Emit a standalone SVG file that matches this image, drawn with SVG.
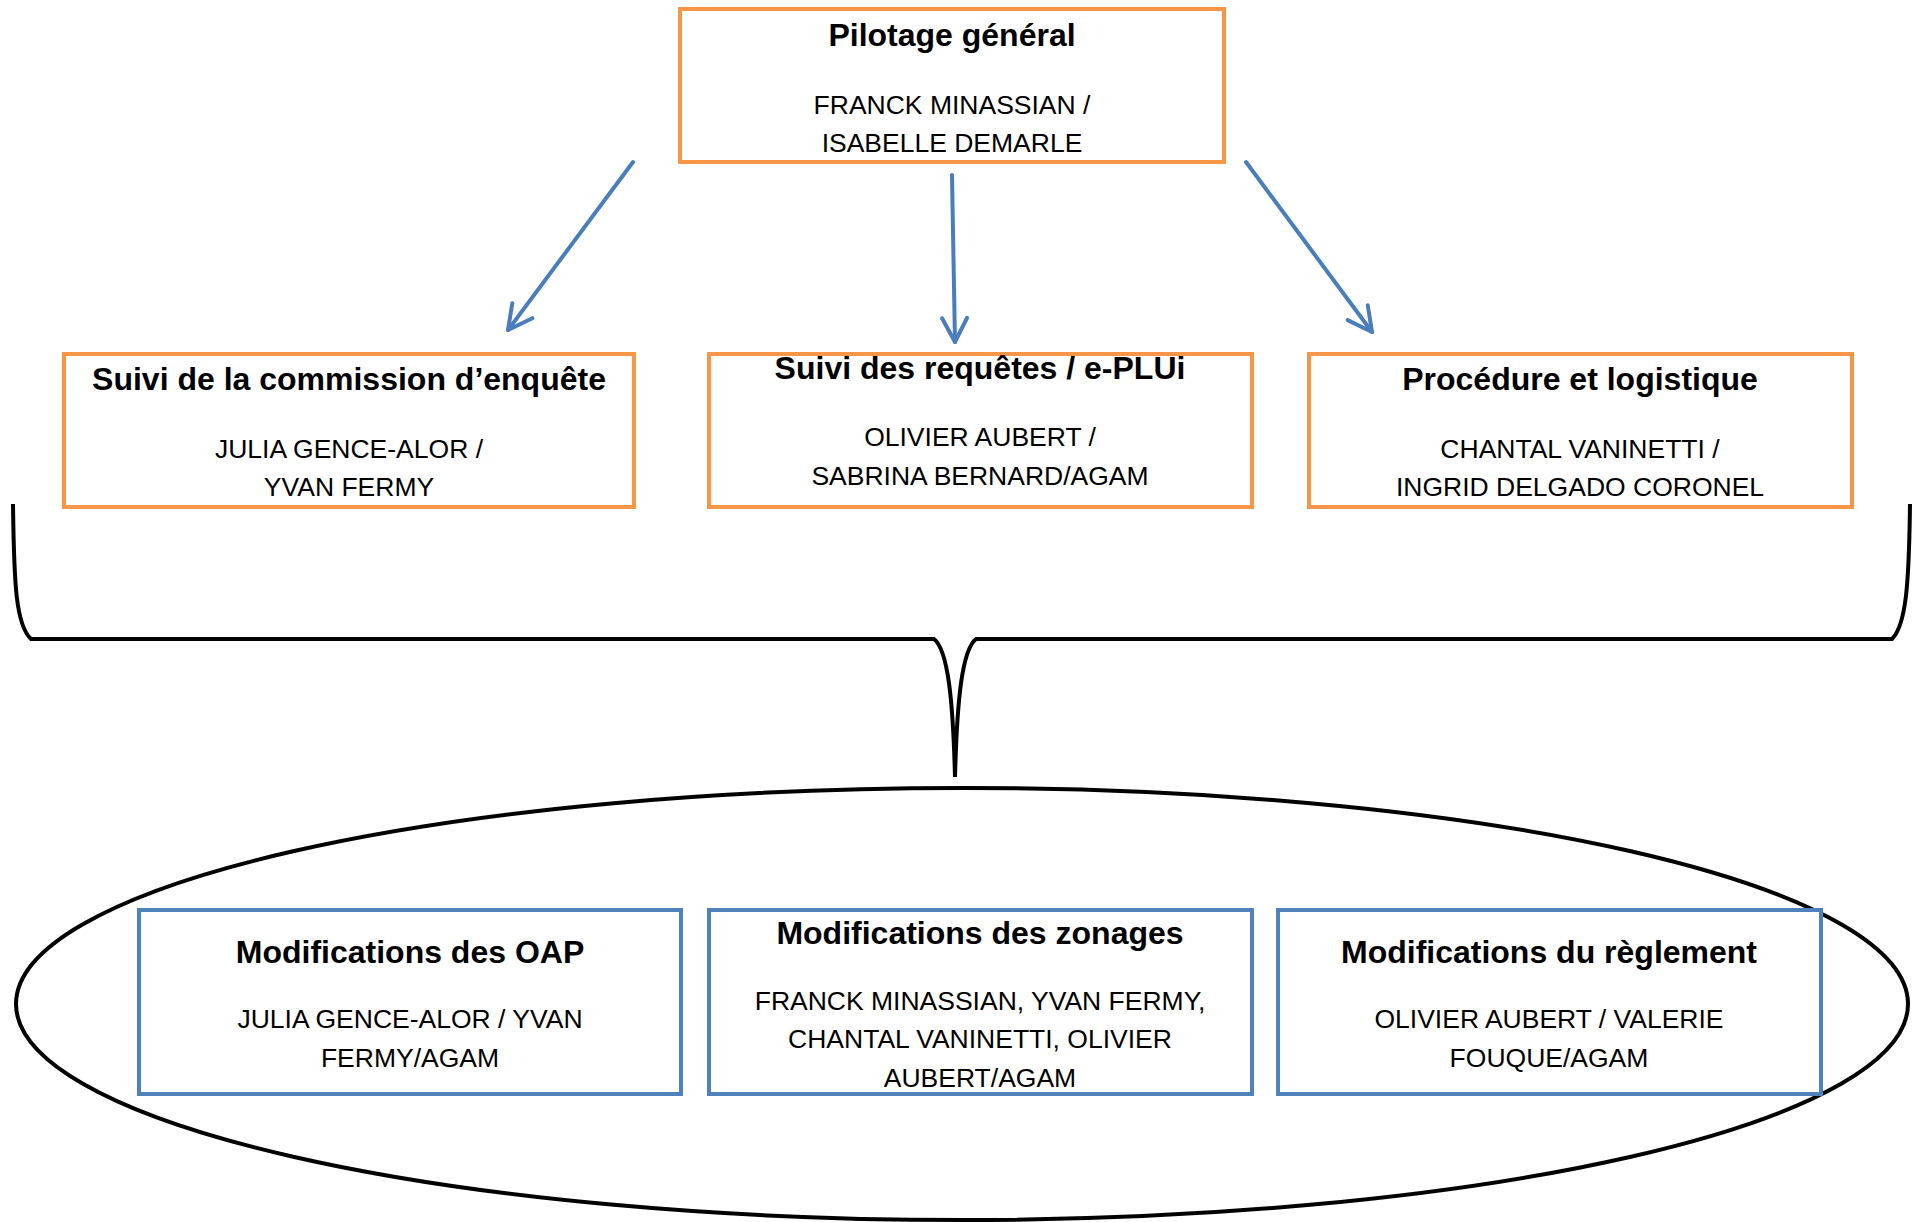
<svg xmlns="http://www.w3.org/2000/svg" width="1915" height="1222" viewBox="0 0 1915 1222">
<style>
.bg{fill:#ffffff}
.ob{fill:#ffffff;stroke:#F79646;stroke-width:4}
.bb{fill:#ffffff;stroke:#4F81BD;stroke-width:4}
.t{font-family:"Liberation Sans",Arial,sans-serif;font-weight:bold;font-size:32px;fill:#000;text-anchor:middle}
.n{font-family:"Liberation Sans",Arial,sans-serif;font-size:26.5px;fill:#000;text-anchor:middle}
.arr{fill:none;stroke:#4A7EBB;stroke-width:4;stroke-linecap:round;marker-end:url(#ah)}
.blk{fill:none;stroke:#000;stroke-width:4}
</style>
<defs>
<marker id="ah" markerUnits="userSpaceOnUse" viewBox="-30 -16 34 32" markerWidth="34" markerHeight="32" refX="0" refY="0" orient="auto">
<path d="M -24 -12.5 L 0 0 L -24 12.5" fill="none" stroke="#4A7EBB" stroke-width="4" stroke-linecap="round" stroke-linejoin="round"/>
</marker>
</defs>
<rect class="bg" x="0" y="0" width="1915" height="1222"/>

<g id="connectors">
<path class="arr" d="M 633 162 L 508 330"/>
<path class="arr" d="M 952 175 L 955 342"/>
<path class="arr" d="M 1246 162 L 1372 332"/>
<path class="blk" stroke-width="3.5" d="M 13 504 C 14 585, 16 625, 31 639 L 934 639 C 948 650, 953 700, 955 777 C 957 700, 962 650, 976 639 L 1892 639 C 1906 625, 1909 585, 1910 504"/>
<ellipse class="blk" cx="962" cy="1004" rx="946" ry="216"/>
</g>

<g id="pilotage">
<rect class="ob" x="680" y="9" width="544" height="153"/>
<text class="t" x="952" y="46">Pilotage général</text>
<text class="n" x="952" y="114">FRANCK MINASSIAN /</text>
<text class="n" x="952" y="152">ISABELLE DEMARLE</text>
</g>

<g id="suivi-commission">
<rect class="ob" x="64" y="354" width="570" height="153"/>
<text class="t" x="349" y="390">Suivi de la commission d’enquête</text>
<text class="n" x="349" y="458">JULIA GENCE-ALOR /</text>
<text class="n" x="349" y="496">YVAN FERMY</text>
</g>

<g id="suivi-requetes">
<rect class="ob" x="709" y="354" width="543" height="153"/>
<text class="t" x="980" y="379">Suivi des requêtes / e-PLUi</text>
<text class="n" x="980" y="446">OLIVIER AUBERT /</text>
<text class="n" x="980" y="485">SABRINA BERNARD/AGAM</text>
</g>

<g id="procedure">
<rect class="ob" x="1309" y="354" width="543" height="153"/>
<text class="t" x="1580" y="390">Procédure et logistique</text>
<text class="n" x="1580" y="458">CHANTAL VANINETTI /</text>
<text class="n" x="1580" y="496">INGRID DELGADO CORONEL</text>
</g>

<g id="modif-oap">
<rect class="bb" x="139" y="910" width="542" height="184"/>
<text class="t" x="410" y="963">Modifications des OAP</text>
<text class="n" x="410" y="1028">JULIA GENCE-ALOR / YVAN</text>
<text class="n" x="410" y="1067">FERMY/AGAM</text>
</g>

<g id="modif-zonages">
<rect class="bb" x="709" y="910" width="543" height="184"/>
<text class="t" x="980" y="944">Modifications des zonages</text>
<text class="n" x="980" y="1010">FRANCK MINASSIAN, YVAN FERMY,</text>
<text class="n" x="980" y="1048">CHANTAL VANINETTI, OLIVIER</text>
<text class="n" x="980" y="1087">AUBERT/AGAM</text>
</g>

<g id="modif-reglement">
<rect class="bb" x="1278" y="910" width="543" height="184"/>
<text class="t" x="1549" y="963">Modifications du règlement</text>
<text class="n" x="1549" y="1028">OLIVIER AUBERT / VALERIE</text>
<text class="n" x="1549" y="1067">FOUQUE/AGAM</text>
</g>
</svg>
